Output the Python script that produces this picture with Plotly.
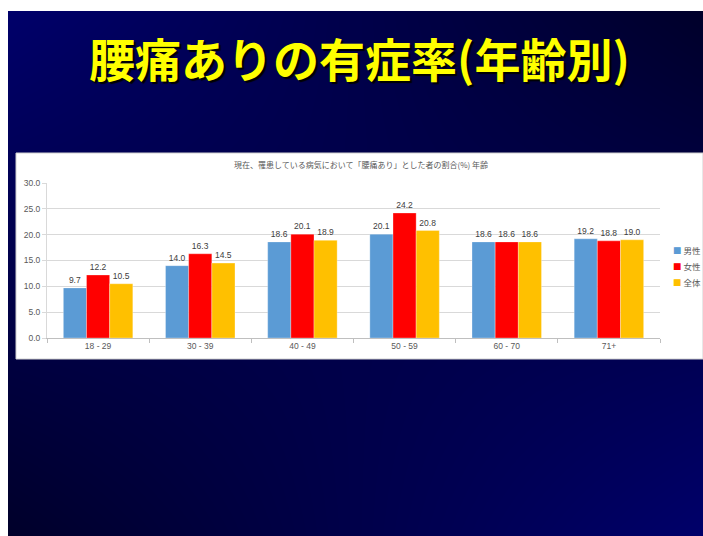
import plotly.graph_objects as go

# ---- data ----
age_groups = ["18 - 29", "30 - 39", "40 - 49", "50 - 59", "60 - 70", "71+"]
male = [9.7, 14.0, 18.6, 20.1, 18.6, 19.2]
female = [12.2, 16.3, 20.1, 24.2, 18.6, 18.8]
total = [10.5, 14.5, 18.9, 20.8, 18.6, 19.0]
series_names = ["男性", "女性", "全体"]
series_values = [male, female, total]
series_colors = ["#5B9BD5", "#FF0000", "#FFC000"]

slide_title = "腰痛ありの有症率(年齢別)"
chart_title = "現在、罹患している病気において「腰痛あり」とした者の割合(%) 年齢"

W, H = 703, 536
LEFT, TOP = 8, 11

def px_x(p):
    return p / W

def px_y(p):
    return 1 - p / H

fig = go.Figure()

# slide background gradient (subplot 1 covers whole page, pixel coordinates)
fig.add_trace(go.Heatmap(
    x=[LEFT, W], y=[TOP, H], z=[[1, 0], [0, 1]],
    zsmooth="best", showscale=False, hoverinfo="skip",
    colorscale=[[0, "#00002A"], [1, "#00006A"]],
    xaxis="x", yaxis="y",
))
# white page margins (left and top)
fig.add_trace(go.Scatter(
    x=[0, W, W, LEFT, LEFT, 0, 0], y=[0, 0, TOP, TOP, H, H, 0],
    fill="toself", fillcolor="#FFFFFF", mode="lines",
    line=dict(color="#FFFFFF", width=0), hoverinfo="skip",
    showlegend=False, xaxis="x", yaxis="y",
))
# white chart panel
fig.add_trace(go.Scatter(
    x=[16, 703, 703, 16, 16], y=[153, 153, 359, 359, 153],
    fill="toself", fillcolor="#FFFFFF", mode="lines",
    line=dict(color="#D0D0D0", width=1), hoverinfo="skip",
    showlegend=False, xaxis="x", yaxis="y",
))

# bars (subplot 2)
for name, vals, col in zip(series_names, series_values, series_colors):
    fig.add_trace(go.Bar(
        x=age_groups, y=vals, name=name,
        marker=dict(color=col, line=dict(color="rgba(255,255,255,0.6)", width=0.5)),
        texttemplate="%{y:.1f}", textposition="outside", cliponaxis=False,
        textfont=dict(family="Liberation Sans", size=8.5, color="#404040"),
        xaxis="x2", yaxis="y2", showlegend=False,
    ))

annotations = [
    dict(text=slide_title, x=px_x(359), y=px_y(57), xref="paper", yref="paper",
         xanchor="center", yanchor="middle", showarrow=False,
         font=dict(family="Noto Sans CJK JP", size=46, color="#FFFF00",
                   weight="bold", shadow="2px 2px 1px #000000")),
    dict(text=chart_title, x=px_x(361), y=px_y(165), xref="paper", yref="paper",
         xanchor="center", yanchor="middle", showarrow=False,
         font=dict(family="Noto Sans CJK JP", size=8, color="#595959")),
]
legend_y = [250, 266, 282]
for name, col, ly in zip(series_names, series_colors, legend_y):
    annotations.append(dict(
        text=f"<span style='color:{col}'>■</span> {name}",
        x=px_x(671), y=px_y(ly), xref="paper", yref="paper",
        xanchor="left", yanchor="middle", showarrow=False,
        font=dict(family="Noto Sans CJK JP", size=8.5, color="#595959"),
    ))

fig.update_layout(
    template="none",
    width=W, height=H, margin=dict(l=0, r=0, t=0, b=0, pad=0, autoexpand=False),
    paper_bgcolor="#FFFFFF", plot_bgcolor="rgba(0,0,0,0)",
    barmode="group", bargap=0.32, bargroupgap=0,
    showlegend=False,
    annotations=annotations,
    xaxis=dict(domain=[0, 1], range=[0, W], visible=False, fixedrange=True,
               automargin=False),
    yaxis=dict(domain=[0, 1], range=[H, 0], visible=False, fixedrange=True,
               automargin=False),
    xaxis2=dict(
        domain=[px_x(47), px_x(660)], anchor="y2", type="category",
        showline=True, linecolor="#BFBFBF", linewidth=1,
        ticks="outside", tickson="boundaries", ticklen=4, tickcolor="#BFBFBF",
        showgrid=False, zeroline=False, automargin=False,
        tickfont=dict(family="Liberation Sans", size=8.5, color="#595959"),
    ),
    yaxis2=dict(
        domain=[px_y(338), px_y(183)], anchor="x2", range=[0, 30], dtick=5,
        tickformat=".1f", showgrid=True, gridcolor="#D9D9D9", gridwidth=1,
        showline=True, linecolor="#D9D9D9", linewidth=1,
        ticks="outside", ticklen=4, tickcolor="#D9D9D9",
        zeroline=False, automargin=False,
        tickfont=dict(family="Liberation Sans", size=8.5, color="#595959"),
    ),
)

fig.write_html("out.html")
